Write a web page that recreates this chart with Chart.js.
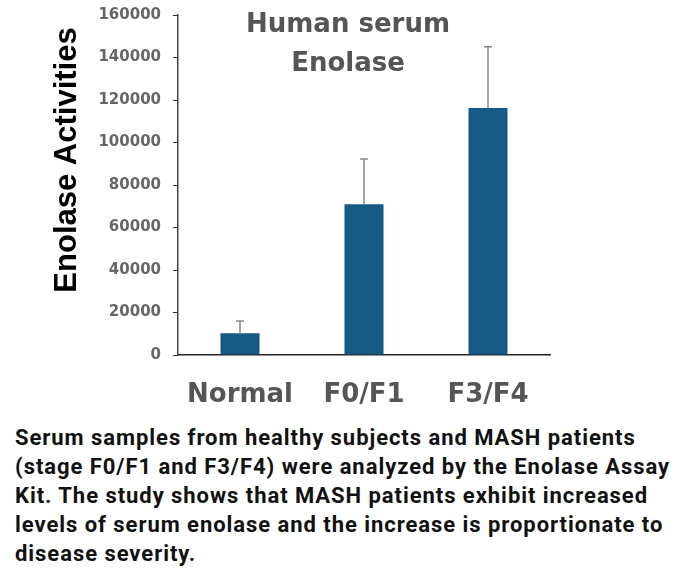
<!DOCTYPE html>
<html>
<head>
<meta charset="utf-8">
<script src="https://cdn.jsdelivr.net/npm/chart.js@4/dist/chart.umd.min.js"></script>
<style>
  html, body { margin: 0; padding: 0; background: #fff; }
  #wrap { position: relative; width: 680px; height: 415px; }
  .caption {
    position: absolute; left: 15px; top: 423px; width: 665px;
    font-family: "Roboto", sans-serif; font-weight: 700; font-size: 22px;
    line-height: 29px; color: #111; letter-spacing: 0.95px; white-space: nowrap;
  }
</style>
</head>
<body>
<div id="wrap"><canvas id="myChart" width="680" height="415"></canvas></div>
<div class="caption">
Serum samples from healthy subjects and MASH patients<br>
(stage F0/F1 and F3/F4) were analyzed by the Enolase Assay<br>
Kit. The study shows that MASH patients exhibit increased<br>
levels of serum enolase and the increase is proportionate to<br>
disease severity.
</div>
<script>
const groups = ['Normal', 'F0/F1', 'F3/F4'];
const enolase = [10200, 71000, 116200];
const errUp = [5800, 21200, 28900];   // upper error (SD)
const yTicks = [0, 20000, 40000, 60000, 80000, 100000, 120000, 140000, 160000];

// error bars (upper only), title and y title drawn by hand
const extras = {
  id: 'extras',
  afterDatasetsDraw(chart) {
    const ctx = chart.ctx;
    const x = chart.scales.x, y = chart.scales.y;
    ctx.save();
    ctx.strokeStyle = '#8a8a8a';
    ctx.lineWidth = 1.5;
    groups.forEach((g, i) => {
      const cx = x.getPixelForValue(i);
      const y0 = y.getPixelForValue(enolase[i]);
      const y1 = y.getPixelForValue(enolase[i] + errUp[i]);
      ctx.beginPath();
      ctx.moveTo(cx, y0); ctx.lineTo(cx, y1);
      ctx.moveTo(cx - 4, y1); ctx.lineTo(cx + 4, y1);
      ctx.stroke();
    });
    ctx.fillStyle = '#555';
    ctx.font = 'bold 26px "DejaVu Sans", sans-serif';
    ctx.textAlign = 'center';
    ctx.textBaseline = 'middle';
    ctx.fillText('Human serum', 348, 25);
    ctx.fillText('Enolase', 348, 64);

    // y axis title
    ctx.translate(67, 160);
    ctx.rotate(-Math.PI / 2);
    ctx.fillStyle = '#000';
    ctx.font = 'bold 31px "Liberation Sans", Arial, sans-serif';
    ctx.fillText('Enolase Activities', 0, 0);
    ctx.restore();
  }
};

const ctx = document.getElementById('myChart').getContext('2d');
new Chart(ctx, {
  type: 'bar',
  data: {
    labels: groups,
    datasets: [{
      data: enolase,
      backgroundColor: '#175b84',
      barPercentage: 0.315,
      categoryPercentage: 1
    }]
  },
  options: {
    responsive: false,
    animation: false,
    layout: { padding: { left: 0, right: 130, top: 0, bottom: 0 } },
    plugins: { legend: { display: false }, tooltip: { enabled: false } },
    scales: {
      x: {
        grid: { display: false },
        border: { display: true, color: '#222', width: 1.5 },
        ticks: {
          color: '#555', padding: 17,
          font: { family: '"DejaVu Sans", sans-serif', size: 26, weight: 'bold' }
        },
        afterFit(s) { s.height = 60; }
      },
      y: {
        min: 0, max: 160000,
        afterBuildTicks(s) { s.ticks = yTicks.map(v => ({ value: v })); },
        grid: { drawOnChartArea: false, tickLength: 5, color: '#333' },
        border: { display: true, color: '#444', width: 1.5 },
        ticks: {
          color: '#666', padding: 12,
          callback: v => String(v),
          // small lineHeight keeps the top padding tight (single-line labels)
          font: { family: '"DejaVu Sans", sans-serif', size: 15, weight: 'bold', lineHeight: 0.4 }
        },
        afterFit(s) { s.width = 178; }
      }
    }
  },
  plugins: [extras]
});
</script>
</body>
</html>
